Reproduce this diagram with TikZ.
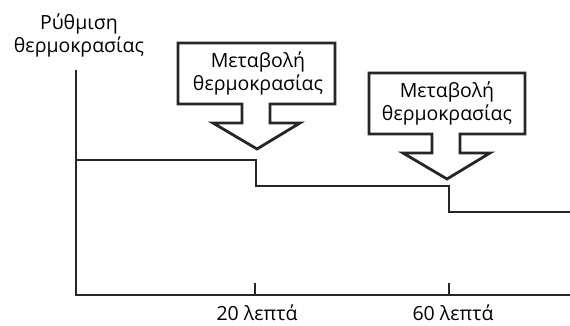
\documentclass[tikz,border=0pt]{standalone}
\usepackage{fontspec}
\setmainfont{Open Sans}
\begin{document}
\begin{tikzpicture}[x=1pt,y=-1pt,
  lbl/.style={font=\fontsize{19.5}{23}\selectfont, align=center, inner sep=0pt},
  callout/.style={draw=black!85, line width=2.8pt, fill=white, line join=miter},
  axis/.style={draw=black!85, line width=2.6pt},
  stepline/.style={draw=black!85, line width=1.4pt},
  tick/.style={draw=black!85, line width=1.6pt}]
\useasboundingbox (0,0) rectangle (570,326);
% axes
\coordinate (ytop) at (76,70);
\coordinate (orig) at (76,295);
\coordinate (xend) at (570,295);
\draw[axis] (ytop) -- (orig) -- (xend);
% ticks
\coordinate (t1) at (255,295);
\coordinate (t2) at (449,295);
\draw[tick] (t1) -- ++(0,-12);
\draw[tick] (t2) -- ++(0,-12);
\node[lbl] (l1) at (257,313) {20 λεπτά};
\node[lbl] (l2) at (453,313) {60 λεπτά};
% y label
\node[lbl] (ylab) at (79,35) {Ρύθμιση\\θερμοκρασίας};
% step line
\coordinate (s0) at (76,160);
\coordinate (s1) at (256,160);
\coordinate (s2) at (256,186);
\coordinate (s3) at (449,186);
\coordinate (s4) at (449,212);
\coordinate (s5) at (570,212);
\draw[stepline] (s0) -- (s1) -- (s2) -- (s3) -- (s4) -- (s5);
% callout 1
\draw[callout] (178,43) -- (335,43) -- (335,104) -- (270,104) -- (270,123) -- (300,123)
  -- (257,149) -- (213,123) -- (242,123) -- (242,104) -- (178,104) -- cycle;
\node[lbl] (c1) at (258,73) {Μεταβολή\\θερμοκρασίας};
% callout 2
\draw[callout] (369,73) -- (525,73) -- (525,134) -- (460,134) -- (460,153) -- (490,153)
  -- (447,179) -- (403,153) -- (432,153) -- (432,134) -- (369,134) -- cycle;
\node[lbl] (c2) at (447,103) {Μεταβολή\\θερμοκρασίας};
\end{tikzpicture}
\end{document}
